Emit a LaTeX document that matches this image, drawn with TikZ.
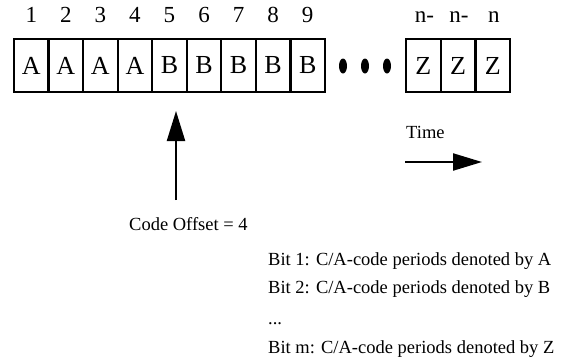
\documentclass[tikz,border=0pt]{standalone}
\usepackage{fontspec}
\setmainfont{Liberation Serif}
\usetikzlibrary{arrows.meta}
\tikzset{
  cell/.style={draw, line width=2.2pt, minimum width=34.6pt, minimum height=53pt, inner sep=0pt, font=\fontsize{26}{26}\selectfont},
  num/.style={font=\fontsize{23}{23}\selectfont, inner sep=0pt, anchor=base},
  txt/.style={font=\fontsize{18.5}{22}\selectfont, inner sep=0pt, anchor=base west},
  dotmark/.style={fill=black, ellipse, draw=none},
  bigarrow/.style={line width=2.2pt, -{Triangle[length=30pt,width=18pt]}}
}
\begin{document}
\begin{tikzpicture}[x=1pt,y=-1pt]
\useasboundingbox (0,0) rectangle (573,359);
% first nine cells
\foreach \i/\l in {1/A,2/A,3/A,4/A,5/B,6/B,7/B,8/B,9/B}{
  \node[cell] (c\i) at ({14+34.55*(\i-0.5)},65.5) {\l};
  \node[num] (n\i) at ({14+34.55*(\i-0.5)},22) {\i};
}
% last three cells
\foreach \i/\t in {1/n-,2/n-,3/n}{
  \node[cell] (z\i) at ({406+34.7*(\i-0.5)},65.5) {Z};
  \node[num] (m\i) at ({406+34.7*(\i-0.5)+1},22) {\t};
}
% dots
\foreach \i/\x in {1/343,2/365,3/387}{
  \fill (\x,66) ellipse [x radius=4pt, y radius=7.5pt];
}
% code offset arrow
\coordinate (upbase) at (176,200);
\coordinate (uptip) at (176,111);
\draw[bigarrow] (upbase) -- (uptip);
\node[txt] (offset) at (129,230) {Code Offset = 4};
% time arrow
\node[txt] (time) at (406,138) {Time};
\coordinate (tstart) at (405,162);
\coordinate (tend) at (482,162);
\draw[line width=2.2pt, -{Triangle[length=29pt,width=17pt]}] (tstart) -- (tend);
% legend
\node[txt] (b1) at (268,265) {Bit 1: C/A-code periods denoted by A};
\node[txt] (b2) at (268,293) {Bit 2: C/A-code periods denoted by B};
\node[txt] (b3) at (268,324) {...};
\node[txt] (bm) at (268,353) {Bit m: C/A-code periods denoted by Z};
\end{tikzpicture}
\end{document}
